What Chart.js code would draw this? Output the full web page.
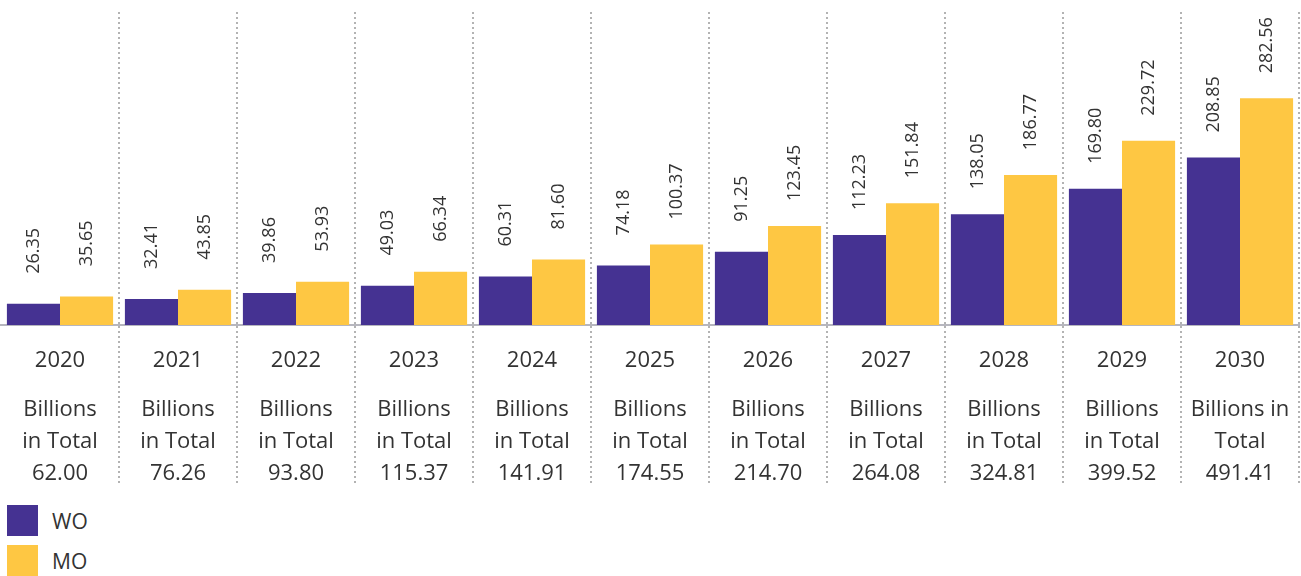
<!DOCTYPE html>
<html>
<head>
<meta charset="utf-8">
<script src="https://cdn.jsdelivr.net/npm/chart.js@4"></script>
<style>
  body { margin: 0; background: #fff; font-family: "Open Sans", sans-serif; }
  #wrap { position: relative; width: 1301px; height: 490px; }
  #legend { position: absolute; left: 7px; top: 505px; }
  .item { display: flex; align-items: center; height: 31px; margin-bottom: 9px; }
  .swatch { width: 31px; height: 31px; margin-right: 14px; }
  .item span { font-size: 21px; color: #333; }
</style>
</head>
<body>
<div id="wrap"><canvas id="barChart"></canvas></div>
<div id="legend"></div>
<script>
const years = ['2020', '2021', '2022', '2023', '2024', '2025', '2026', '2027', '2028', '2029', '2030'];
const woValues = [26.35, 32.41, 39.86, 49.03, 60.31, 74.18, 91.25, 112.23, 138.05, 169.80, 208.85];
const moValues = [35.65, 43.85, 53.93, 66.34, 81.60, 100.37, 123.45, 151.84, 186.77, 229.72, 282.56];
const totals = ['62.00', '76.26', '93.80', '115.37', '141.91', '174.55', '214.70', '264.08', '324.81', '399.52', '491.41'];
const totalCaptions = [
  ['Billions', 'in Total'], ['Billions', 'in Total'], ['Billions', 'in Total'], ['Billions', 'in Total'],
  ['Billions', 'in Total'], ['Billions', 'in Total'], ['Billions', 'in Total'], ['Billions', 'in Total'],
  ['Billions', 'in Total'], ['Billions', 'in Total'], ['Billions in', 'Total']
];

const WO_COLOR = '#453292';
const MO_COLOR = '#fec743';
const GRID_COLOR = '#b3b3b3';
const TEXT_COLOR = '#333';

// value labels, rotated, centred a little above each bar
const barValueLabels = {
  id: 'barValueLabels',
  afterDatasetsDraw(chart) {
    const ctx = chart.ctx;
    ctx.save();
    ctx.font = '18px "Open Sans"';
    ctx.fillStyle = TEXT_COLOR;
    ctx.textAlign = 'center';
    ctx.textBaseline = 'middle';
    chart.data.datasets.forEach((ds, i) => {
      chart.getDatasetMeta(i).data.forEach((bar, j) => {
        ctx.save();
        ctx.translate(bar.x, bar.y - 53);
        ctx.rotate(-Math.PI / 2);
        ctx.fillText(ds.data[j].toFixed(2), 0, 0);
        ctx.restore();
      });
    });
    ctx.restore();
  }
};

// year + total captions under each category, between the long dotted ticks
const categoryCaptions = {
  id: 'categoryCaptions',
  afterDraw(chart) {
    const scale = chart.scales.x;
    const ctx = chart.ctx;
    ctx.save();
    ctx.font = '22px "Open Sans"';
    ctx.fillStyle = TEXT_COLOR;
    ctx.textAlign = 'center';
    ctx.textBaseline = 'middle';
    years.forEach((year, i) => {
      const x = scale.getPixelForTick(i);
      ctx.fillText(year, x, scale.top + 36);
      const lines = [...totalCaptions[i], totals[i]];
      lines.forEach((line, k) => ctx.fillText(line, x, scale.top + 85 + k * 32));
    });
    ctx.restore();
  }
};

const ctx = document.getElementById('barChart').getContext('2d');
const chart = new Chart(ctx, {
  type: 'bar',
  data: {
    labels: years,
    datasets: [
      { label: 'WO', data: woValues, backgroundColor: WO_COLOR },
      { label: 'MO', data: moValues, backgroundColor: MO_COLOR }
    ]
  },
  options: {
    responsive: true,
    maintainAspectRatio: false,
    animation: false,
    layout: { padding: { top: 12, left: 1, right: 2, bottom: 7 } },
    datasets: { bar: { categoryPercentage: 0.9, barPercentage: 1.0 } },
    plugins: { legend: { display: false }, tooltip: { enabled: false } },
    scales: {
      x: {
        offset: true,
        grid: {
          offset: true,
          drawOnChartArea: true,
          drawTicks: true,
          tickLength: 158,
          lineWidth: 2,
          tickWidth: 2,
          tickBorderDash: [2, 3],
          color: (c) => (c.index === 0 || c.index === years.length) ? 'rgba(0,0,0,0)' : GRID_COLOR,
          tickColor: (c) => (c.index === 0 || c.index === years.length) ? 'rgba(0,0,0,0)' : GRID_COLOR
        },
        border: { display: true, color: '#b6b6be', width: 2, dash: [2, 3] },
        ticks: { display: false }
      },
      y: {
        display: false,
        min: 0,
        max: 390
      }
    }
  },
  plugins: [barValueLabels, categoryCaptions]
});

// legend: one square swatch per series, stacked
const legend = document.getElementById('legend');
chart.data.datasets.forEach(ds => {
  const item = document.createElement('div');
  item.className = 'item';
  item.innerHTML = '<div class="swatch" style="background:' + ds.backgroundColor + '"></div><span>' + ds.label + '</span>';
  legend.appendChild(item);
});
</script>
</body>
</html>
